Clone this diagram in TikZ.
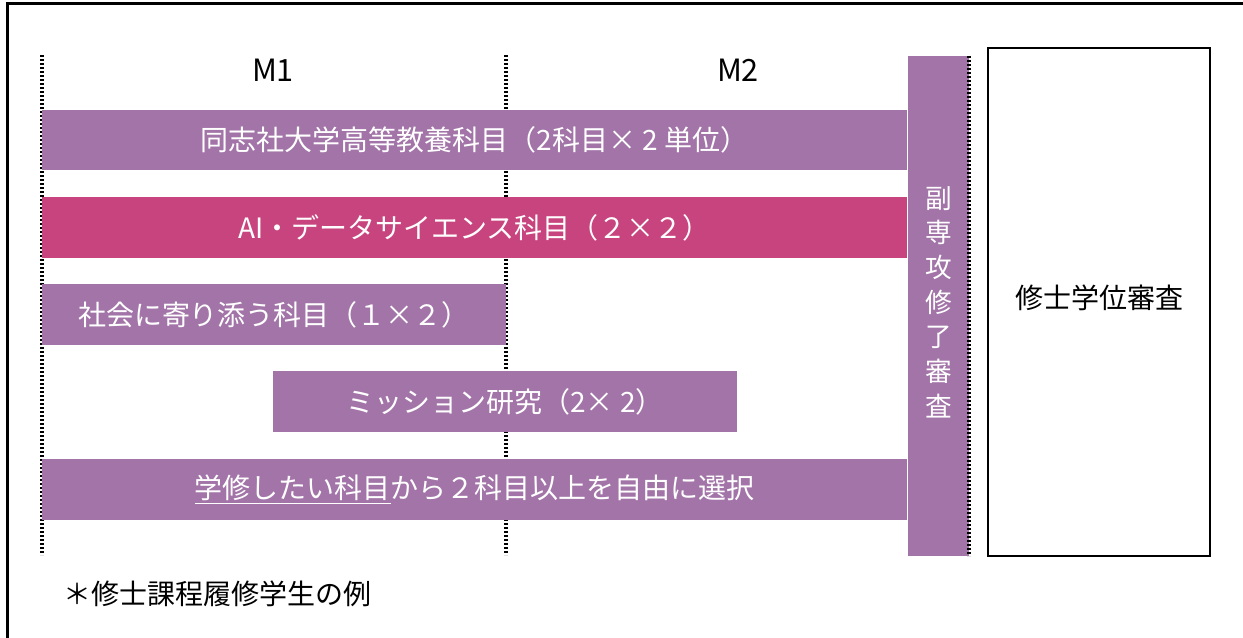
\documentclass[tikz,border=0pt]{standalone}
\usepackage{fontspec}
\newfontfamily\jpfont{Noto Sans CJK JP}
\definecolor{barpurple}{RGB}{162,116,168}
\definecolor{barpink}{RGB}{200,68,126}
\tikzset{
  bartext/.style={font=\jpfont\fontsize{21}{25}\selectfont, text=white, inner sep=0.75pt},
  blacktext/.style={font=\jpfont\fontsize{21}{25}\selectfont, text=black, inner sep=0.75pt},
  yeartext/.style={font=\jpfont\fontsize{23}{27}\selectfont, inner sep=0.75pt},
  termline/.style={line width=2.4pt, dash pattern=on 1.7pt off 1.3pt},
}

\begin{document}
\begin{tikzpicture}[x=0.75pt,y=0.75pt,yscale=-1,xscale=1]
	\useasboundingbox (0,0) rectangle (1243,638);
	% outer frame
	\draw [line width=2.25pt]  (7,638) -- (7,4) -- (1243,4) ;
	% year columns
	\draw [termline]  (42,55) -- (42,555) ;
	\draw [termline]  (506,55) -- (506,555) ;
	\draw (273,70) node [yeartext] (m1)  {M1};
	\draw (738,70) node [yeartext] (m2)  {M2};
	% subject bars
	\fill [barpurple]  (42,110) rectangle (907,170) ;
	\draw (474.5,140) node [bartext] (kyoyo)  {同志社大学高等教養科目（2科目× 2 単位）};
	\fill [barpink]  (42,197) rectangle (907,258) ;
	\draw (474.5,227.5) node [bartext] (aids)  {AI・データサイエンス科目（２×２）};
	\fill [barpurple]  (42,284) rectangle (506,345) ;
	\draw (274,314.5) node [bartext] (shakai)  {社会に寄り添う科目（１×２）};
	\fill [barpurple]  (273,371) rectangle (737,432) ;
	\draw (505,401.5) node [bartext] (mission)  {ミッション研究（2× 2）};
	\fill [barpurple]  (42,459) rectangle (907,520) ;
	\draw (474.5,489.5) node [bartext] (jiyu)  {\underline{学修したい科目}から２科目以上を自由に選択};
	% minor review
	\fill [barpurple]  (908,56) rectangle (969,556) ;
	\draw [termline]  (969,56) -- (969,556) ;
	\draw (938.5,302) node [bartext, align=center, font=\jpfont\fontsize{20}{26}\selectfont] (fukusenko)  {副\\専\\攻\\修\\了\\審\\査};
	% degree review
	\draw [line width=1.6pt]  (988,48) rectangle (1210,556) ;
	\draw (1099,298) node [blacktext] (shushi)  {修士学位審査};
	% note
	\draw (62,594) node [blacktext, anchor=west] (note)  {＊修士課程履修学生の例};
\end{tikzpicture}
\end{document}
